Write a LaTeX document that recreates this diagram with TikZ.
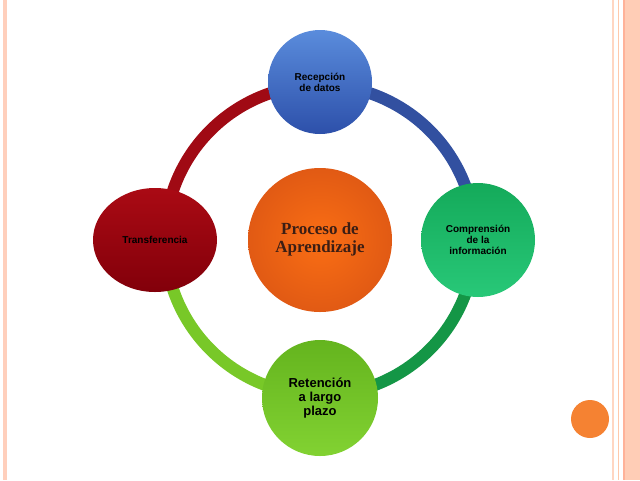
\documentclass[tikz,border=0pt]{standalone}
\usetikzlibrary{shapes.geometric}
\usepackage{fontspec}
\setmainfont{Liberation Serif}
\newfontfamily\sans{Liberation Sans}
\definecolor{ringblue}{RGB}{50,80,160}
\definecolor{ringgreen}{RGB}{20,150,70}
\definecolor{ringlight}{RGB}{120,200,40}
\definecolor{ringred}{RGB}{160,10,20}
\begin{document}
\begin{tikzpicture}[x=1pt,y=-1pt,
  ring/.style={line width=12pt},
  small/.style={font=\sans\bfseries\fontsize{10}{11}\selectfont,align=center,text=black}]
\useasboundingbox (0,0) rectangle (640,480);
\fill[white] (0,0) rectangle (640,480);
% borders
\fill[orange!25!pink!60] (3,0) rectangle (7,480);
\fill[orange!30!pink!50] (612,0) rectangle (614,480);
\fill[orange!40!pink!60] (618,0) rectangle (619,480);
\fill[orange!50!red!40] (623,0) rectangle (625,480);
\fill[orange!30!pink!60] (625,0) rectangle (640,480);
\node[circle,fill={rgb,255:red,245;green,130;blue,50},minimum size=38pt,inner sep=0] (dot) at (590,419) {};
% ring arcs
\draw[ring,ringblue] (320,85) arc[start angle=-90,end angle=0,radius=155];
\draw[ring,ringgreen] (475,240) arc[start angle=0,end angle=90,radius=155];
\draw[ring,ringlight] (320,395) arc[start angle=90,end angle=180,radius=155];
\draw[ring,ringred] (165,240) arc[start angle=180,end angle=270,radius=155];
% nodes
\node[circle,minimum size=144pt,inner sep=0,shading=radial,inner color={rgb,255:red,250;green,110;blue,20},outer color={rgb,255:red,225;green,90;blue,20},text={rgb,255:red,60;green,30;blue,20}] (c) at (320,240)
  {\fontsize{17}{18}\selectfont\bfseries\begin{tabular}{c}Proceso de\\Aprendizaje\end{tabular}};
\node[circle,minimum size=104pt,inner sep=0,top color={rgb,255:red,90;green,140;blue,220},bottom color={rgb,255:red,45;green,80;blue,170},small] (t) at (320,82) {Recepción\\de datos};
\node[circle,minimum size=114pt,inner sep=0,top color={rgb,255:red,20;green,170;blue,90},bottom color={rgb,255:red,40;green,200;blue,120},small] (r) at (478,240) {Comprensión\\de la\\información};
\node[circle,minimum size=116pt,inner sep=0,top color={rgb,255:red,100;green,180;blue,30},bottom color={rgb,255:red,130;green,210;blue,50},font=\sans\bfseries\fontsize{13}{14}\selectfont,align=center] (b) at (320,398) {Retención\\a largo\\plazo};
\node[ellipse,minimum width=124pt,minimum height=104pt,inner sep=0,top color={rgb,255:red,170;green,10;blue,20},bottom color={rgb,255:red,130;green,0;blue,10},small] (l) at (155,240) {Transferencia};
\end{tikzpicture}
\end{document}
